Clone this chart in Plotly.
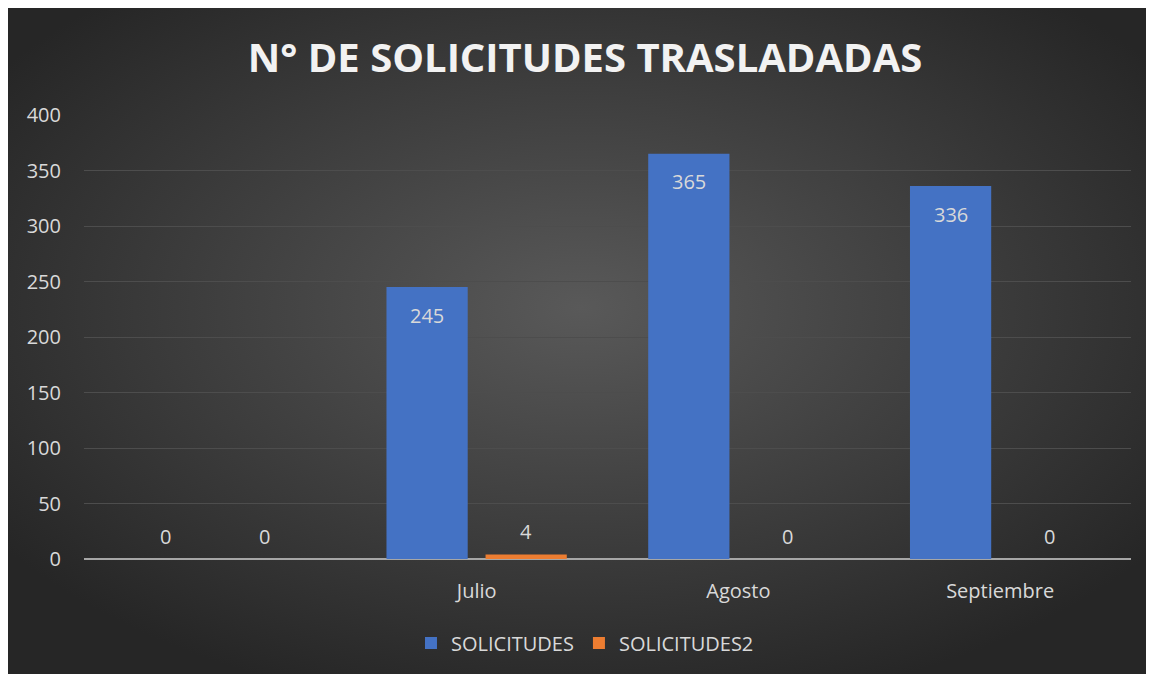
import base64
import plotly.graph_objects as go

categories = ["", "Julio", "Agosto", "Septiembre"]
solicitudes = [0, 245, 365, 336]
solicitudes2 = [0, 4, 0, 0]
y_ticks = [0, 50, 100, 150, 200, 250, 300, 350, 400]

W, H = 1154, 674
L, R, T, B = 76, 31, 107, 123
pw, ph = W - L - R, H - T - B
BARGAP = 0.243
GROUPGAP = 0.18

svg = ('<svg xmlns="http://www.w3.org/2000/svg" width="1146" height="666" preserveAspectRatio="none">'
       '<defs><radialGradient id="g" cx="50%" cy="45%" r="62%">'
       '<stop offset="0" stop-color="#595959"/><stop offset="1" stop-color="#262626"/>'
       '</radialGradient></defs><rect width="1146" height="666" fill="url(#g)"/></svg>')
src = "data:image/svg+xml;base64," + base64.b64encode(svg.encode()).decode()

txt = "#d9d9d9"
xs = list(range(len(categories)))

fig = go.Figure()
fig.add_trace(go.Bar(x=xs, y=solicitudes, name="SOLICITUDES",
                     marker=dict(color="#4472c4", line=dict(width=0))))
fig.add_trace(go.Bar(x=xs, y=solicitudes2, name="SOLICITUDES2",
                     marker=dict(color="#ed7d31", line=dict(width=0))))

# data labels (Excel style: inside end for tall bars, above for short ones)
half = (1 - BARGAP) / 4
annotations = []
for series, off in ((solicitudes, -half), (solicitudes2, half)):
    for i, v in enumerate(series):
        inside = v > 40
        annotations.append(dict(
            x=i + off, y=v, xref="x", yref="y", text=str(v), showarrow=False,
            yanchor="middle", yshift=-28 if inside else 23,
            font=dict(family="Open Sans", size=20, color=txt)))

fig.update_layout(
    width=W, height=H,
    margin=dict(l=L, r=R, t=T, b=B, pad=0),
    paper_bgcolor="#2a2a2a", plot_bgcolor="rgba(0,0,0,0)",
    font=dict(family="Open Sans", color=txt, size=20),
    barmode="group", bargap=BARGAP, bargroupgap=GROUPGAP,
    title=dict(text="<b>N° DE SOLICITUDES TRASLADADAS</b>", x=0.5, xanchor="center",
               y=1 - 50 / H, yanchor="middle",
               font=dict(family="Open Sans", size=40, color="#f2f2f2")),
    xaxis=dict(tickmode="array", tickvals=xs, ticktext=categories,
               range=[-0.5, len(categories) - 0.5], showgrid=False,
               showline=False, ticks="", tickfont=dict(size=20, color=txt),
               ticklabelstandoff=18, zeroline=False),
    yaxis=dict(range=[0, 400], tickvals=y_ticks, showgrid=True,
               gridcolor="#4d4d4d", gridwidth=1, zeroline=True,
               zerolinecolor="#a6a6a6", zerolinewidth=2, ticks="",
               ticklabelstandoff=22, tickfont=dict(size=20, color=txt)),
    legend=dict(orientation="h", x=0.4785, xanchor="center", y=-84 / ph,
                yanchor="middle", font=dict(size=20, color=txt),
                bgcolor="rgba(0,0,0,0)", itemwidth=30),
    annotations=annotations,
    images=[dict(source=src, xref="paper", yref="paper",
                 x=-L / pw, y=(ph + T) / ph, sizex=(W - 8) / pw, sizey=(H - 8) / ph,
                 xanchor="left", yanchor="top", sizing="stretch", layer="below")],
)

fig.write_html("out.html",
               post_script="document.body.style.overflow='hidden';"
                           "document.documentElement.style.overflow='hidden';")
